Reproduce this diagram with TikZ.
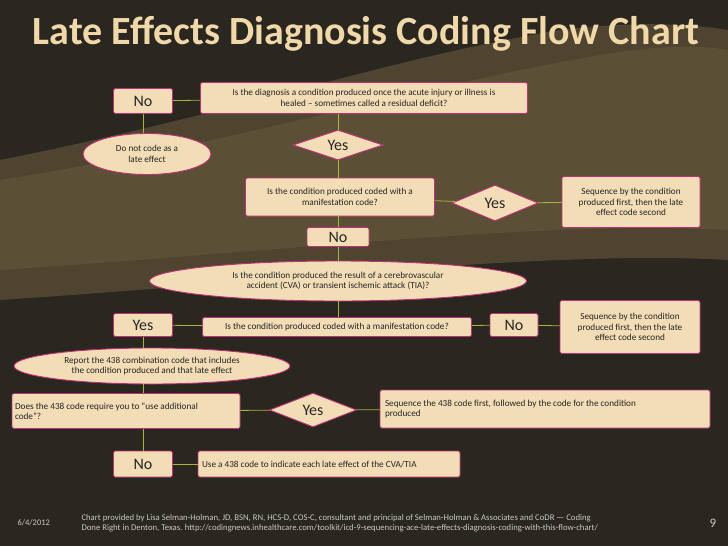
\documentclass[tikz,border=0pt]{standalone}
\usepackage{fontspec}
\setmainfont{Carlito}
\usetikzlibrary{shapes.geometric}
\definecolor{bg}{HTML}{2A2620}
\definecolor{wave}{HTML}{7A6A45}
\definecolor{boxfill}{HTML}{F2DDB6}
\definecolor{boxline}{HTML}{C0307A}
\definecolor{conn}{HTML}{A8B43A}
\definecolor{titlec}{HTML}{F0D8A8}
\newcommand{\lbox}[2]{\parbox[c]{#1}{\raggedright #2}}
\tikzset{
  base/.style={draw=boxline, line width=0.9pt, fill=boxfill, text=black!85, inner sep=1pt, align=center, font=\fontsize{9.2}{10.5}\selectfont},
  bx/.style={base, rectangle, rounded corners=1.5pt},
  yn/.style={bx, font=\fontsize{16}{17}\selectfont},
  el/.style={base, ellipse, inner sep=0pt},
  dm/.style={base, diamond, inner sep=0pt, font=\fontsize{16}{17}\selectfont},
  cn/.style={conn, line width=0.8pt}
}
\begin{document}
\begin{tikzpicture}[x=1pt,y=-1pt]
\useasboundingbox (0,0) rectangle (728,546);
\fill[bg] (0,0) rectangle (728,546);
\fill[wave, opacity=0.45] (0,160) .. controls (250,110) and (380,60) .. (560,30) .. controls (640,20) and (700,25) .. (728,30) -- (728,260) .. controls (550,250) and (300,280) .. (0,300) -- cycle;
\fill[wave, opacity=0.3] (0,180) .. controls (250,140) and (400,90) .. (600,55) .. controls (660,45) and (700,45) .. (728,50) -- (728,230) .. controls (550,220) and (300,250) .. (0,270) -- cycle;
\node[text=titlec, font=\fontsize{40}{42}\selectfont\bfseries] (title) at (366,34) {Late Effects Diagnosis Coding Flow Chart};
% nodes
\node[yn, minimum width=59, minimum height=25] (no1) at (143,101) {No};
\node[bx, minimum width=327, minimum height=31] (q1) at (364,98) {Is the diagnosis a condition produced once the acute injury or illness is\\healed -- sometimes called a residual deficit?};
\node[el, minimum width=128, minimum height=41] (e1) at (147,154) {Do not code as a\\late effect};
\node[dm, minimum width=90, minimum height=30, aspect=3] (yes1) at (338,145) {Yes};
\node[bx, minimum width=189, minimum height=38] (q2) at (340,197) {Is the condition produced coded with a\\manifestation code?};
\node[dm, minimum width=86, minimum height=36, aspect=2.4] (yes2) at (495,203) {Yes};
\node[bx, minimum width=138, minimum height=51] (s1) at (631,202) {Sequence by the condition\\produced first, then the late\\effect code second};
\node[yn, minimum width=62, minimum height=19] (no2) at (338,237) {No};
\node[el, minimum width=377, minimum height=40] (e2) at (338,281) {Is the condition produced the result of a cerebrovascular\\accident (CVA) or transient ischemic attack (TIA)?};
\node[yn, minimum width=59, minimum height=23] (yes3) at (143,325) {Yes};
\node[bx, minimum width=269, minimum height=19] (q3) at (337,327) {Is the condition produced coded with a manifestation code?};
\node[yn, minimum width=48, minimum height=23] (no3) at (514,325) {No};
\node[bx, minimum width=140, minimum height=53] (s2) at (630,327) {Sequence by the condition\\produced first, then the late\\effect code second};
\node[el, minimum width=276, minimum height=36] (e3) at (152,366) {Report the 438 combination code that includes\\the condition produced and that late effect};
\node[bx, minimum width=228, minimum height=35] (q4) at (126,411) {\lbox{222pt}{Does the 438 code require you to ``use additional\\code''?}};
\node[dm, minimum width=87, minimum height=34, aspect=2.6] (yes4) at (313,410) {Yes};
\node[bx, minimum width=330, minimum height=38] (s3) at (545,409) {\lbox{320pt}{Sequence the 438 code first, followed by the code for the condition\\produced}};
\node[yn, minimum width=59, minimum height=26] (no4) at (143,464) {No};
\node[bx, minimum width=262, minimum height=26] (q5) at (329,464) {\lbox{254pt}{Use a 438 code to indicate each late effect of the CVA/TIA}};
% connectors
\draw[cn] (no1) -- (q1);
\draw[cn] (no1) -- (no1|-e1.north);
\draw[cn] (q1.south-|yes1) -- (yes1);
\draw[cn] (yes1) -- (yes1|-q2.north);
\draw[cn] (q2) -- (yes2);
\draw[cn] (yes2) -- (s1);
\draw[cn] (no2|-q2.south) -- (no2);
\draw[cn] (no2) -- (e2);
\draw[cn] (e2) -- (e2|-q3.north);
\draw[cn] (yes3) -- (q3);
\draw[cn] (q3) -- (no3);
\draw[cn] (no3) -- (s2);
\draw[cn] (yes3) -- (yes3|-e3.north);
\draw[cn] (yes3|-e3.south) -- (yes3|-q4.north);
\draw[cn] (q4) -- (yes4);
\draw[cn] (yes4) -- (s3);
\draw[cn] (no4|-q4.south) -- (no4);
\draw[cn] (no4) -- (q5);
% footer
\node[text=white!75!bg, font=\fontsize{8.5}{10}\selectfont, anchor=west] (date) at (14,523) {6/4/2012};
\node[text=white!75!bg, font=\fontsize{8.7}{10.5}\selectfont, anchor=west, align=left] (foot) at (78,523) {Chart provided by Lisa Selman-Holman, JD, BSN, RN, HCS-D, COS-C, consultant and principal of Selman-Holman \& Associates and CoDR --- Coding\\Done Right in Denton, Texas. http://codingnews.inhealthcare.com/toolkit/icd-9-sequencing-ace-late-effects-diagnosis-coding-with-this-flow-chart/};
\node[text=white!75!bg, font=\fontsize{13}{14}\selectfont] (pg) at (713,523) {9};
\end{tikzpicture}
\end{document}
